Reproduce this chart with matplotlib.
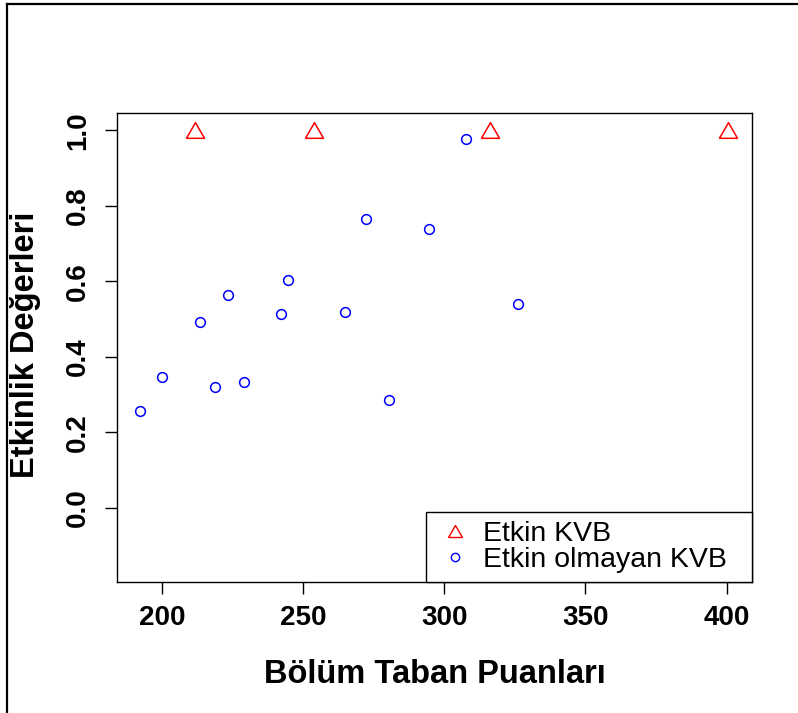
import matplotlib
matplotlib.use("Agg")
import matplotlib.pyplot as plt
from matplotlib.lines import Line2D

plt.rcParams['font.family'] = ['Liberation Sans', 'DejaVu Sans']

# Etkin KVB (efficient units)
etkin_x = [211.7, 253.9, 316.0, 400.4]
etkin_y = [1.0, 1.0, 1.0, 1.0]

# Etkin olmayan KVB (inefficient units)
olmayan_x = [192.2, 200.0, 213.5, 218.8, 223.4, 229.1, 242.2, 244.7,
             264.9, 272.3, 280.5, 294.7, 307.8, 326.2]
olmayan_y = [0.257, 0.347, 0.492, 0.320, 0.563, 0.333, 0.513, 0.603,
             0.519, 0.765, 0.286, 0.738, 0.976, 0.540]

x_ticks = [200, 250, 300, 350, 400]
y_ticks = [0.0, 0.2, 0.4, 0.6, 0.8, 1.0]

# equilateral triangle like R's pch=2
tri = [(-1, -0.866), (1, -0.866), (0, 0.866), (-1, -0.866)]

fig = plt.figure(figsize=(7.98, 7.13), dpi=100)
ax = fig.add_axes([117/798, 1 - 582/713, 635/798, 469/713])

ax.plot(etkin_x, etkin_y, linestyle='none', marker=tri, markersize=13,
        markerfacecolor='none', markeredgecolor='#ff0000', markeredgewidth=1.1)
ax.plot(olmayan_x, olmayan_y, linestyle='none', marker='o', markersize=7,
        markerfacecolor='none', markeredgecolor='#0000ff', markeredgewidth=1.1)

ax.set_xlim(184.0, 409.0)
ax.set_ylim(-0.196, 1.046)
ax.set_xticks(x_ticks)
ax.set_xticklabels([str(v) for v in x_ticks])
ax.set_yticks(y_ticks)
ax.set_yticklabels([f"{v:.1f}" for v in y_ticks])

for s in ax.spines.values():
    s.set_linewidth(1.0)
ax.tick_params(axis='both', length=8.6, width=1.0, labelsize=20)
ax.tick_params(axis='x', pad=8)
ax.tick_params(axis='y', pad=10)
for lab in ax.get_xticklabels() + ax.get_yticklabels():
    lab.set_fontweight('bold')
for lab in ax.get_yticklabels():
    lab.set_rotation(90)
    lab.set_va('center')

fig.text(434.5/798, 1 - 683/713, "Bölüm Taban Puanları", ha='center',
         va='baseline', fontsize=23.5, fontweight='bold')
fig.text(26/798, 1 - 345/713, "Etkinlik Değerleri", ha='center',
         va='center', rotation=90, fontsize=23.5, fontweight='bold')

handles = [
    Line2D([], [], linestyle='none', marker=tri, markersize=10,
           markerfacecolor='none', markeredgecolor='#ff0000', markeredgewidth=1.0),
    Line2D([], [], linestyle='none', marker='o', markersize=6,
           markerfacecolor='none', markeredgecolor='#0000ff', markeredgewidth=1.0),
]
leg = ax.legend(handles, ["Etkin KVB", "Etkin olmayan KVB"], loc='lower left',
                bbox_to_anchor=(309/635, 0, 326/635, 71/469), mode='expand',
                borderaxespad=0, fancybox=False,
                framealpha=1, edgecolor='black', fontsize=20.5,
                handlelength=1.37, handletextpad=0.3, borderpad=0.32,
                labelspacing=0.0)
leg.get_frame().set_linewidth(1.0)

# outer frame lines (top and left)
fig.add_artist(Line2D([7/798, 1], [1 - 4/713, 1 - 4/713], color='black',
                      linewidth=1.6, transform=fig.transFigure))
fig.add_artist(Line2D([7/798, 7/798], [0, 1 - 4/713], color='black',
                      linewidth=1.6, transform=fig.transFigure))

fig.savefig("out.png", dpi=100)
